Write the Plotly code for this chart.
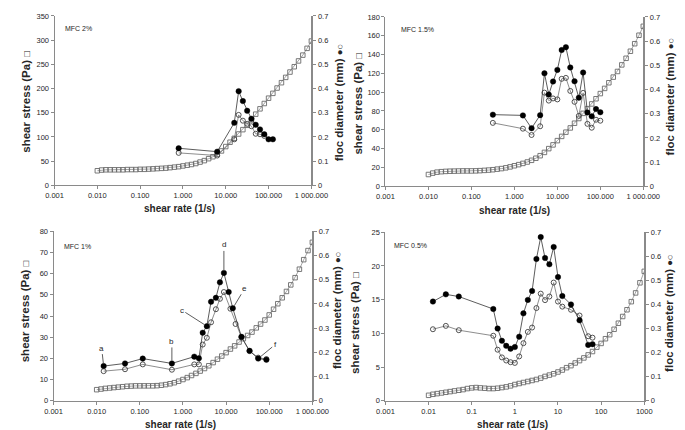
import math
import plotly.graph_objects as go

W, H = 685, 430

# ---------------- data ----------------
SHEAR_RATE = [0.0100, 0.0126, 0.0158, 0.0200, 0.0251, 0.0316, 0.0398, 0.0501, 0.0631, 0.0794,
              0.100, 0.126, 0.158, 0.200, 0.251, 0.316, 0.398, 0.501, 0.631, 0.794,
              1.00, 1.26, 1.58, 2.00, 2.51, 3.16, 3.98, 5.01, 6.31, 7.94,
              10.0, 12.6, 15.8, 20.0, 25.1, 31.6, 39.8, 50.1, 63.1, 79.4,
              100, 126, 158, 200, 251, 316, 398, 501, 631, 794, 1000]

STRESS_2 = [30, 31.5, 32, 32, 32, 32, 32, 32.5, 32.5, 32.5,
            33, 33, 33.5, 34, 34.5, 35, 35.5, 36.5, 37.5, 38.5,
            40, 41.5, 43, 45, 48, 51, 55, 59, 64, 71,
            80, 89, 97, 106, 115, 124, 135, 147, 158, 169,
            180, 190, 201, 212, 223, 234, 245, 257, 269, 283, 298]
STRESS_15 = [12.5, 14, 15, 15.5, 15.8, 16, 16.1, 16.2, 16.3, 16.3,
             16.3, 16.4, 16.6, 16.9, 17.2, 17.6, 18.2, 18.8, 19.6, 20.6,
             21.8, 23, 24.3, 25.8, 27.6, 29.8, 32.5, 36, 40, 44,
             48.5, 53, 57.5, 62, 67, 72, 77.5, 82.5, 87.5, 93,
             98.5, 104, 110, 116, 122, 129, 136, 143.5, 151.5, 160.5, 170]
STRESS_1 = [5.2, 5.5, 5.8, 6.0, 6.2, 6.4, 6.6, 6.8, 6.9, 7.0,
            7.0, 7.0, 7.0, 7.0, 7.1, 7.3, 7.6, 8.0, 8.5, 9.2,
            10.0, 10.9, 11.9, 12.9, 14.0, 15.2, 16.5, 18.0, 19.6, 21.1,
            22.7, 24.4, 25.9, 27.7, 29.3, 30.8, 32.4, 34.4, 36.2, 38.1,
            40.5, 43.2, 45.8, 48.6, 51.6, 54.7, 58.1, 62.1, 66.6, 70.9, 74.8]
STRESS_05 = [0.8, 0.95, 1.05, 1.15, 1.25, 1.35, 1.45, 1.55, 1.65, 1.8,
             1.9, 1.95, 1.9, 1.85, 1.8, 1.8, 1.85, 1.95, 2.05, 2.2,
             2.4, 2.55, 2.7, 2.85, 3.0, 3.15, 3.35, 3.6, 3.8, 4.0,
             4.26, 4.55, 4.9, 5.2, 5.6, 5.95, 6.35, 6.8, 7.3, 7.95,
             8.5, 9.2, 9.8, 10.6, 11.5, 12.5, 13.5, 14.7, 16.0, 17.5, 19.2]

# floc diameters (mm): filled = solid circles, open = open circles
FLOC2_FILLED_X = [0.794, 6.31, 15.8, 20.0, 25.1, 31.6, 39.8, 50.1, 63.1, 79.4, 100, 126]
FLOC2_FILLED_Y = [0.153, 0.139, 0.258, 0.389, 0.348, 0.308, 0.275, 0.250, 0.231, 0.211, 0.190, 0.190]
FLOC2_OPEN_X = [0.794, 6.31, 15.8, 20.0, 25.1, 31.6, 39.8, 50.1, 63.1, 79.4]
FLOC2_OPEN_Y = [0.134, 0.123, 0.190, 0.291, 0.267, 0.254, 0.244, 0.213, 0.211, 0.204]

FLOC15_X = [0.316, 1.58, 2.51, 3.98, 5.01, 6.31, 7.94, 10.0, 12.6, 15.8,
            20.0, 25.1, 31.6, 39.8, 50.1, 63.1, 79.4, 100]
FLOC15_FILLED_Y = [0.296, 0.293, 0.240, 0.294, 0.467, 0.379, 0.433, 0.481, 0.563, 0.575,
                   0.491, 0.434, 0.366, 0.470, 0.305, 0.289, 0.319, 0.306]
FLOC15_OPEN_Y = [0.262, 0.238, 0.212, 0.248, 0.387, 0.354, 0.363, 0.359, 0.444, 0.448,
                 0.394, 0.349, 0.291, 0.386, 0.258, 0.242, 0.275, 0.271]

FLOC1_FILLED_X = [0.0145, 0.0454, 0.117, 0.554, 1.83, 2.34, 2.87, 3.58, 4.48, 5.8,
                  7.2, 8.9, 11.5, 14.3, 22.7, 35, 55.6, 86]
FLOC1_FILLED_Y = [0.143, 0.154, 0.174, 0.154, 0.182, 0.175, 0.281, 0.308, 0.409, 0.425,
                  0.489, 0.528, 0.449, 0.382, 0.264, 0.206, 0.174, 0.169]
FLOC1_OPEN_X = [0.0145, 0.0454, 0.117, 0.554, 1.83, 2.34, 2.87, 3.58, 4.48, 5.8,
                7.2, 8.9, 12.6, 16.6, 22.7, 35, 55.6, 86]
FLOC1_OPEN_Y = [0.122, 0.130, 0.150, 0.128, 0.150, 0.150, 0.232, 0.260, 0.324, 0.378,
                0.421, 0.449, 0.380, 0.317, 0.262, 0.205, 0.178, 0.172]
FLOC1_LETTERS = ["a", "b", "c", "d", "e", "f"]
FLOC1_LETTER_IDX = [0, 3, 7, 11, 13, 16]

FLOC05_X = [0.0126, 0.0251, 0.0501, 0.316, 0.398, 0.501, 0.631, 0.794, 1.0, 1.26,
            1.58, 2.0, 2.51, 3.16, 3.98, 5.01, 6.31, 7.94, 10.0, 12.6,
            20.0, 31.6, 50.1, 63.1]
FLOC05_FILLED_Y = [0.412, 0.442, 0.433, 0.381, 0.300, 0.249, 0.228, 0.216, 0.223, 0.266,
                   0.363, 0.419, 0.456, 0.589, 0.680, 0.593, 0.567, 0.639, 0.514, 0.435,
                   0.400, 0.334, 0.232, 0.235]
FLOC05_OPEN_Y = [0.297, 0.311, 0.293, 0.270, 0.212, 0.180, 0.167, 0.160, 0.157, 0.184,
                 0.239, 0.286, 0.304, 0.385, 0.445, 0.418, 0.433, 0.491, 0.412, 0.391,
                 0.378, 0.354, 0.268, 0.262]

PANEL_LABELS = ["MFC 2%", "MFC 1.5%", "MFC 1%", "MFC 0.5%"]
X_TICKVALS = [0.001, 0.01, 0.1, 1, 10, 100, 1000]
X_TICKTEXT_A = ["0.001", "0.010", "0.100", "1.000", "10.000", "100.000", "1 000.000"]
X_TICKTEXT_B = ["0.001", "0.01", "0.1", "1", "10", "100", "1000"]
MM_TICKVALS = [0, 0.1, 0.2, 0.3, 0.4, 0.5, 0.6, 0.7]
MM_TICKTEXT = ["0", "0.1", "0.2", "0.3", "0.4", "0.5", "0.6", "0.7"]

# ---------------- styling / layout ----------------
FONT = "Liberation Sans, Arial, DejaVu Sans, sans-serif"
TICKFONT = dict(family=FONT, size=7.5, color="#262626")
AXC = "#8a8a8a"

panels = [
    dict(stress=STRESS_2, fx=FLOC2_FILLED_X, fy=FLOC2_FILLED_Y, ox=FLOC2_OPEN_X, oy=FLOC2_OPEN_Y,
         ymax=350, dtick=50, px=(39, 306), py=(4, 177), tt=X_TICKTEXT_A,
         lab=(48, 17), ltitle=(9, 92), rtitle=(335, 92), xtitle=(169, 201)),
    dict(stress=STRESS_15, fx=FLOC15_X, fy=FLOC15_FILLED_Y, ox=FLOC15_X, oy=FLOC15_OPEN_Y,
         ymax=180, dtick=20, px=(383, 651), py=(5, 178), tt=X_TICKTEXT_A,
         lab=(397, 18), ltitle=(355, 94), rtitle=(679, 86), xtitle=(517, 203)),
    dict(stress=STRESS_1, fx=FLOC1_FILLED_X, fy=FLOC1_FILLED_Y, ox=FLOC1_OPEN_X, oy=FLOC1_OPEN_Y,
         ymax=80, dtick=10, px=(38, 307), py=(224, 397), tt=X_TICKTEXT_A,
         lab=(47, 240), ltitle=(8, 306), rtitle=(332, 304), xtitle=(170, 421)),
    dict(stress=STRESS_05, fx=FLOC05_X, fy=FLOC05_FILLED_Y, ox=FLOC05_X, oy=FLOC05_OPEN_Y,
         ymax=25, dtick=5, px=(383, 652), py=(225, 397), tt=X_TICKTEXT_B,
         lab=(390, 239), ltitle=(352, 318), rtitle=(677, 307), xtitle=(515, 421)),
]

fig = go.Figure()
layout = dict(width=W, height=H, margin=dict(l=0, r=0, t=0, b=0),
              paper_bgcolor="white", plot_bgcolor="white", showlegend=False,
              font=dict(family=FONT, color="#262626"))
annotations = []

for i, p in enumerate(panels, start=1):
    xa = "x" if i == 1 else f"x{i}"
    yl = f"y{2*i-1}" if i > 1 else "y"
    yr = f"y{2*i}"
    xkey = "xaxis" if i == 1 else f"xaxis{i}"
    ylkey = "yaxis" if i == 1 else f"yaxis{2*i-1}"
    yrkey = f"yaxis{2*i}"

    xd = [p["px"][0] / W, p["px"][1] / W]
    yd = [1 - p["py"][1] / H, 1 - p["py"][0] / H]

    # shear stress squares
    fig.add_trace(go.Scatter(x=SHEAR_RATE, y=p["stress"], xaxis=xa, yaxis=yl, mode="lines+markers",
                             line=dict(color="#8c8c8c", width=0.8),
                             marker=dict(symbol="square-open", size=4.5, color="#6a6a6a",
                                         line=dict(width=0.9))))
    # open circles
    fig.add_trace(go.Scatter(x=p["ox"], y=p["oy"], xaxis=xa, yaxis=yr, mode="lines+markers",
                             line=dict(color="#707070", width=0.8),
                             marker=dict(symbol="circle-open", size=5, color="#404040",
                                         line=dict(width=0.9))))
    # filled circles
    fig.add_trace(go.Scatter(x=p["fx"], y=p["fy"], xaxis=xa, yaxis=yr, mode="lines+markers",
                             line=dict(color="#333333", width=0.8),
                             marker=dict(symbol="circle", size=5.5, color="#000000",
                                         line=dict(width=0.4, color="#000"))))

    layout[xkey] = dict(type="log", range=[-3, 3], domain=xd, anchor=yl,
                        tickvals=X_TICKVALS, ticktext=p["tt"], tickfont=TICKFONT,
                        showline=True, linecolor=AXC, linewidth=1, ticks="outside",
                        ticklen=3, tickcolor=AXC, showgrid=False, zeroline=False)
    layout[ylkey] = dict(range=[0, p["ymax"]], domain=yd, anchor=xa, dtick=p["dtick"],
                         tickfont=TICKFONT, showline=True, linecolor=AXC, linewidth=1,
                         ticks="outside", ticklen=3, tickcolor=AXC, showgrid=False,
                         zeroline=False)
    layout[yrkey] = dict(range=[0, 0.7], overlaying=yl, side="right", anchor=xa,
                         tickvals=MM_TICKVALS, ticktext=MM_TICKTEXT, tickfont=TICKFONT,
                         showline=True, linecolor=AXC, linewidth=2, ticks="outside",
                         ticklen=3, tickcolor=AXC, showgrid=False, zeroline=False)

    # panel label
    annotations.append(dict(text=PANEL_LABELS[i - 1], x=p["lab"][0] / W, y=1 - p["lab"][1] / H,
                            xref="paper", yref="paper", xanchor="left", yanchor="middle",
                            showarrow=False, font=dict(size=7, color="#262626")))
    # axis titles
    annotations.append(dict(text="<b>shear stress (Pa)</b> <span style='font-size:9.5px'>□</span>",
                            x=p["ltitle"][0] / W,
                            y=1 - p["ltitle"][1] / H, xref="paper", yref="paper",
                            xanchor="center", yanchor="middle", textangle=-90, showarrow=False,
                            font=dict(size=11.5, color="#262626")))
    annotations.append(dict(text="<b>floc diameter (mm)</b> <span style='font-size:9.5px'>●○</span>",
                            x=p["rtitle"][0] / W,
                            y=1 - p["rtitle"][1] / H, xref="paper", yref="paper",
                            xanchor="center", yanchor="middle", textangle=-90, showarrow=False,
                            font=dict(size=11.5, color="#262626")))
    annotations.append(dict(text="<b>shear rate (1/s)</b>", x=p["xtitle"][0] / W,
                            y=1 - p["xtitle"][1] / H, xref="paper", yref="paper",
                            xanchor="center", yanchor="middle", showarrow=False,
                            font=dict(size=10, color="#262626")))

# letters a-f on the MFC 1% panel
LETTER_OFFSETS = [(-2, -18), (0, -22), (-25, -16), (0, -28), (12, -20), (17, -14)]
for letter, idx, (ax, ay) in zip(FLOC1_LETTERS, FLOC1_LETTER_IDX, LETTER_OFFSETS):
    annotations.append(dict(text=letter, x=math.log10(FLOC1_FILLED_X[idx]), y=FLOC1_FILLED_Y[idx],
                            xref="x3", yref="y6", showarrow=True, arrowhead=0, arrowwidth=0.8,
                            arrowcolor="#333", ax=ax, ay=ay, standoff=3,
                            font=dict(size=8, color="#262626")))

layout["annotations"] = annotations
fig.update_layout(**layout)
fig.write_html("out.html")
